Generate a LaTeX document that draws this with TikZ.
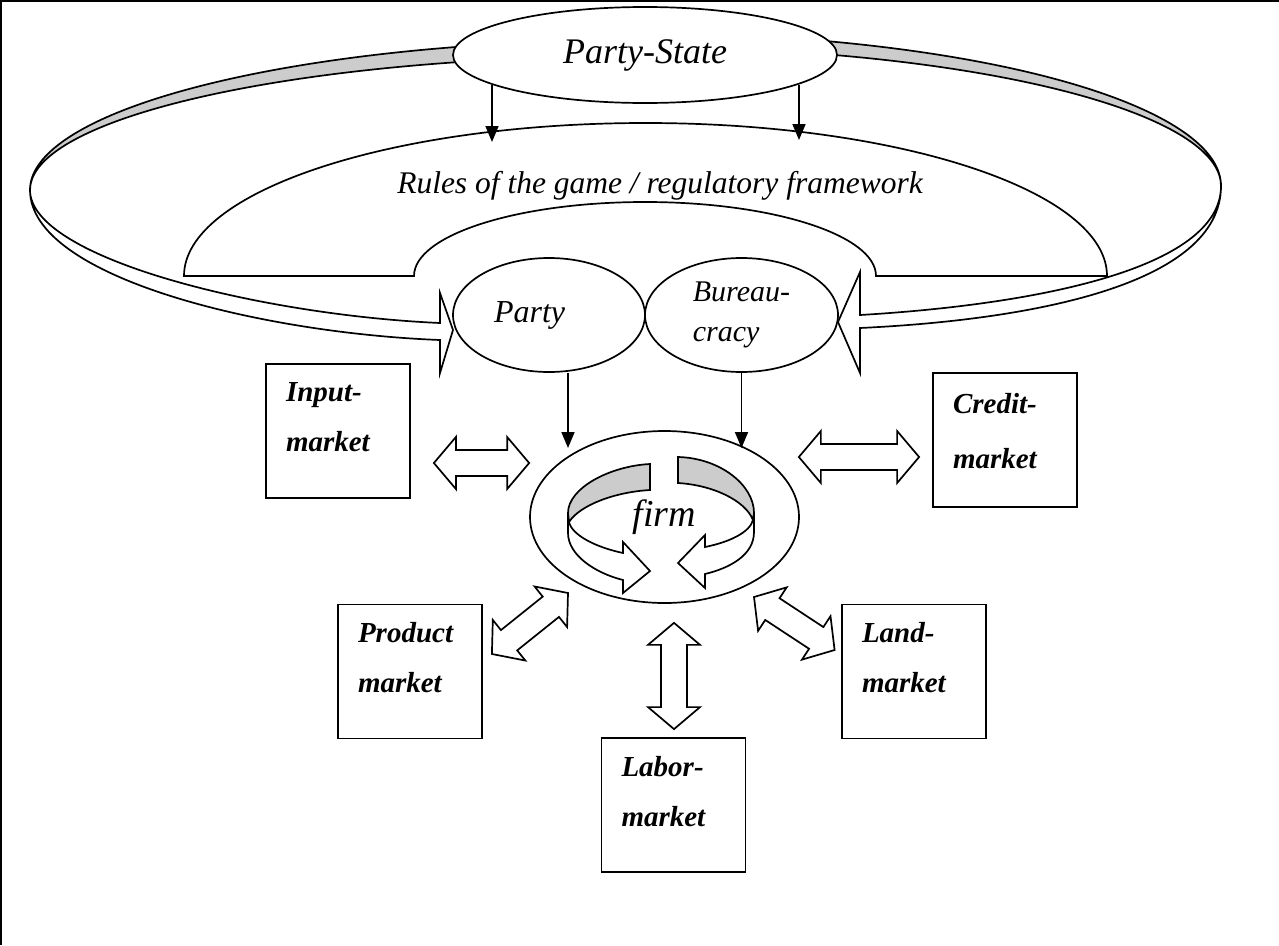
\documentclass[tikz,border=0pt]{standalone}
\usepackage{fontspec}
\setmainfont{Liberation Serif}
\usetikzlibrary{arrows.meta,calc,positioning,shapes.geometric}

% double block arrow between two named points
\newcommand{\blockarrow}[2]{%
  \coordinate (ba1) at ($(#1)!22pt!(#2)$);
  \coordinate (ba2) at ($(#2)!22pt!(#1)$);
  \draw[blockarrow] (#1)
    -- ($(ba1)!26pt!90:(#2)$) -- ($(ba1)!13pt!90:(#2)$)
    -- ($(ba2)!13pt!-90:(#1)$) -- ($(ba2)!26pt!-90:(#1)$)
    -- (#2)
    -- ($(ba2)!26pt!90:(#1)$) -- ($(ba2)!13pt!90:(#1)$)
    -- ($(ba1)!13pt!-90:(#2)$) -- ($(ba1)!26pt!-90:(#2)$)
    -- cycle;}

\begin{document}
\begin{tikzpicture}[x=1pt,y=-1pt,
        link/.style={-{Triangle[length=16pt,width=13pt]},line width=1.7pt},
        actor/.style={draw,ellipse,fill=white,line width=1.7pt,inner sep=0pt},
        market/.style={draw,rectangle,line width=1.8pt,minimum width=144pt,minimum height=134pt,
            text width=104pt,align=left,inner sep=0pt,text depth=78pt,
            font=\fontsize{29}{50}\selectfont\bfseries\itshape},
        band/.style={line width=1.7pt,line join=miter},
        ringwall/.style={line width=1.7pt,line join=miter},
        blockarrow/.style={fill=white,line width=1.7pt,line join=miter},
        note/.style={font=\fontsize{31.5}{36}\selectfont\itshape}
    ]
    \useasboundingbox (0,0) rectangle (1279,945);

    % --- Page frame ---
    \draw[line width=2pt] (0,1) -- (1279,1);
    \draw[line width=2pt] (1,0) -- (1,945);

    % --- Rules of the game ---
    \draw[band,fill=white] (184,276) arc[start angle=180,end angle=360,x radius=461.5,y radius=153]
        -- (876,276) arc[start angle=0,end angle=-180,x radius=231,y radius=74] -- cycle;
    \node[note] (rules) at (660,186) {Rules of the game / regulatory framework};

    % --- Band round the state: grey upper halves ---
    \draw[band,fill=black!20] (640,190) ++(253:610 and 150)
        arc[start angle=253,end angle=180,x radius=610,y radius=150]
        arc[start angle=180,end angle=253,x radius=610,y radius=134] -- cycle;
    \draw[band,fill=black!20] (640,186) ++(287:581 and 153)
        arc[start angle=287,end angle=360,x radius=581,y radius=153]
        arc[start angle=0,end angle=-73,x radius=581,y radius=139] -- cycle;

    % --- Band round the state: lower halves with heads ---
    \coordinate (tipL) at (453,330);
    \coordinate (tipR) at (838,322);
    \draw[band,fill=white] (30,190) .. controls (30,277) and (260,333) .. (440,340)
        -- (440,373) -- (tipL) -- (440,293) -- (440,323)
        .. controls (260,315) and (30,258) .. (30,190) -- cycle;
    \draw[band,fill=white] (1221,186) .. controls (1221,285) and (1030,320) .. (860,328)
        -- (860,373) -- (tipR) -- (860,272) -- (860,315)
        .. controls (1030,305) and (1221,270) .. (1221,186) -- cycle;

    % --- Actors ---
    \node[actor,minimum width=384pt,minimum height=96pt,
        font=\fontsize{36}{40}\selectfont\itshape] (ps) at (645,55) {Party-State};
    \node[actor,minimum width=192pt,minimum height=114pt,text width=110pt,align=left,
        font=\fontsize{32}{36}\selectfont\itshape] (party) at (549,315) {Party};
    \node[actor,minimum width=193pt,minimum height=114pt,align=left,
        font=\fontsize{30}{40}\selectfont\itshape] (bur) at (741.5,315) {Bureau-\\cracy};
    \node[actor,minimum width=269pt,minimum height=172pt,
        font=\fontsize{38}{42}\selectfont\itshape] (firm) at (664.5,517) {firm};

    % --- Markets ---
    \node[market] (input) at (338,431) {Input-\\market};
    \node[market,text depth=74pt,font=\fontsize{29}{55}\selectfont\bfseries\itshape]
        (credit) at (1005,440) {Credit-\\market};
    \node[market] (product) at (410,671.5) {Product\\market};
    \node[market] (land) at (914,671.5) {Land-\\market};
    \node[market] (labor) at (673.5,805) {Labor-\\market};

    % --- Links from the state ---
    \coordinate (sl) at (492,142);
    \coordinate (sr) at (799,140);
    \draw[link] (sl |- ps.191) -- (sl);
    \draw[link] (sr |- ps.349) -- (sr);

    % --- Links to the firm ---
    \coordinate (fl) at (568,448);
    \coordinate (fr) at (741.5,448);
    \draw[link] (fl |- party.south) -- (fl);
    \draw[link] (fr |- bur.south) -- (fr);

    % --- Turning arrows inside the firm ---
    \draw[ringwall,fill=black!20] (650,464) .. controls (610,466) and (568,488) .. (568,513)
        -- (569,522) .. controls (580,505) and (615,492) .. (650,490) -- cycle;
    \draw[ringwall] (568,513) -- (568,533) .. controls (568,555) and (595,573) .. (623,580)
        -- (623,593) -- (650,571) -- (623,542) -- (623,553)
        .. controls (595,547) and (572,535) .. (569,522);
    \draw[ringwall,fill=black!20] (678,457) .. controls (720,458) and (754,485) .. (754,513)
        -- (753,520) .. controls (745,500) and (712,485) .. (678,483) -- cycle;
    \draw[ringwall] (754,513) -- (754,532) .. controls (754,555) and (730,568) .. (705,574)
        -- (705,588) -- (678,563) -- (705,535) -- (705,547)
        .. controls (730,542) and (750,532) .. (753,520);

    % --- Exchange with the markets ---
    \coordinate (in1) at ($(input.east)+(23,32)$);
    \coordinate (in2) at ($(firm.west)+(0,-54)$);
    \coordinate (cr1) at ($(firm.east)+(-1,-60)$);
    \coordinate (cr2) at ($(credit.west)+(-13,17)$);
    \coordinate (pr1) at ($(product.east)+(9,-17.5)$);
    \coordinate (pr2) at ($(firm.center)+(-96.5,76)$);
    \coordinate (lb1) at ($(firm.south)+(9.5,19)$);
    \coordinate (lb2) at ($(labor.north)+(0.5,-8)$);
    \coordinate (ld1) at ($(firm.center)+(89.5,80)$);
    \coordinate (ld2) at ($(land.west)+(-6.5,-21.5)$);
    \blockarrow{in1}{in2}
    \blockarrow{cr1}{cr2}
    \blockarrow{pr1}{pr2}
    \blockarrow{lb1}{lb2}
    \blockarrow{ld1}{ld2}

\end{tikzpicture}
\end{document}
